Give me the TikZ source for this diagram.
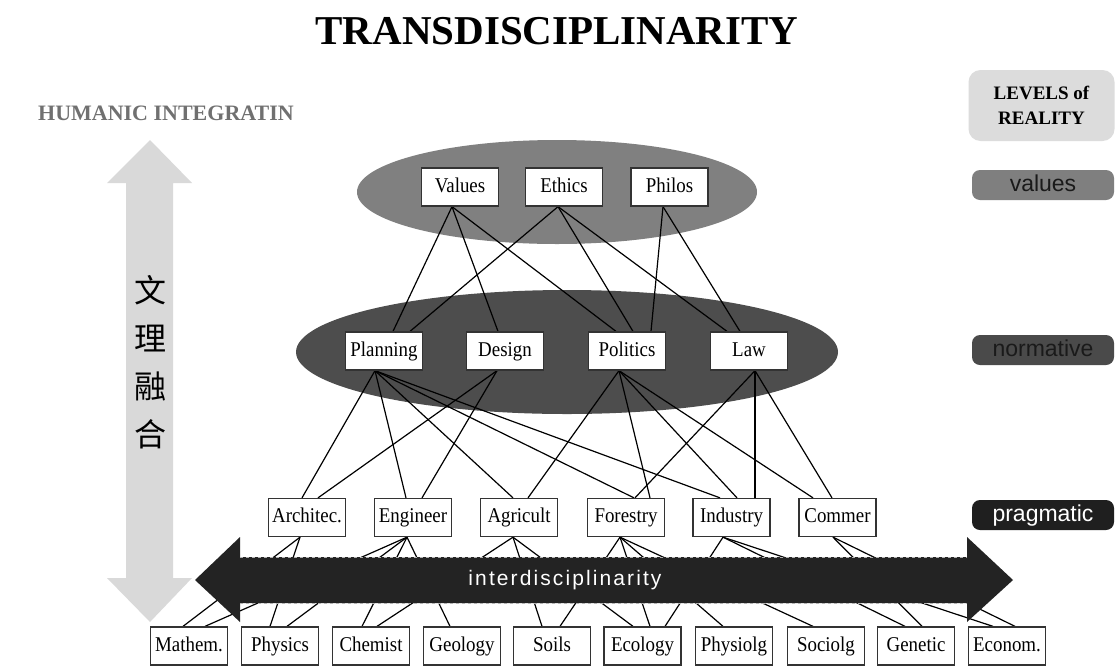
\documentclass[tikz,border=0pt]{standalone}
\usepackage{fontspec}
\setmainfont{Liberation Serif}
\setsansfont{Liberation Sans}
\newfontfamily\boxfont[FakeStretch=0.9]{Liberation Serif}
\newfontfamily\cjkfont{Noto Sans CJK SC}

\definecolor{ellvalues}{HTML}{808080}
\definecolor{ellnorm}{HTML}{4D4D4D}
\definecolor{boxline}{HTML}{333333}
\definecolor{humgrey}{HTML}{707070}
\definecolor{pillar}{HTML}{D9D9D9}
\definecolor{lvlgrey}{HTML}{DCDCDC}
\definecolor{lvlvalues}{HTML}{7F7F7F}
\definecolor{lvlnorm}{HTML}{4A4A4A}
\definecolor{lvlprag}{HTML}{1F1F1F}
\definecolor{inkdark}{HTML}{1A1A1A}
\definecolor{bandblack}{HTML}{232323}

\pgfdeclarelayer{bg}
\pgfdeclarelayer{edges}
\pgfsetlayers{bg,edges,main}

% connector from the lower side of one box to the upper side of another
\newcommand\conn[4]{\draw[link] ([xshift=#2pt]#1.south) -- ([xshift=#4pt]#3.north);}

\begin{document}
\begin{tikzpicture}[x=1pt,y=-1pt,
  disc/.style={draw=boxline, line width=1.3pt, fill=white, minimum width=77pt,
    minimum height=38pt, inner sep=0pt, text height=14pt, text depth=4pt,
    font=\boxfont\fontsize{21}{21}\selectfont},
  link/.style={line width=1.2pt, black},
  level/.style={rounded corners=8pt, minimum width=142pt, minimum height=30pt,
    inner sep=0pt, text height=16pt, text depth=4pt, font=\sffamily\fontsize{23}{23}\selectfont}]

\useasboundingbox (0,0) rectangle (1115,670);

% level ellipses on a white ground
\begin{pgfonlayer}{bg}
  \fill[white] (0,0) rectangle (1115,670);
  \fill[ellvalues] (557,192) ellipse [x radius=200, y radius=52];
  \fill[ellnorm] (567,352) ellipse [x radius=271, y radius=62];
\end{pgfonlayer}

% title and side caption
\node[font=\bfseries\fontsize{41}{41}\selectfont, anchor=base, inner sep=0pt] (title) at (557,44.5) {TRANSDISCIPLINARITY};
\node[font=\bfseries\fontsize{22}{22}\selectfont, text=humgrey, anchor=base east, inner sep=0pt] (hum) at (294,120) {HUMANIC INTEGRATIN};

% vertical double arrow with its caption
\fill[pillar] (150,140) -- (192,183) -- (173,183) -- (173,578) -- (192,578) -- (150,622)
  -- (107,578) -- (126,578) -- (126,183) -- (107,183) -- cycle;
\node[font=\cjkfont\fontsize{32}{48}\selectfont, align=center, inner sep=0pt] (wenli) at (150,362) {文\\理\\融\\合};

% value level
\node[disc] (values) at (460,187) {Values};
\node[disc] (ethics) at (564,187) {Ethics};
\node[disc] (philos) at (669.5,187) {Philos};

% normative level
\node[disc] (planning) at (384,351) {Planning};
\node[disc] (design) at (505,351) {Design};
\node[disc] (politics) at (627,351) {Politics};
\node[disc] (law) at (749,351) {Law};

% pragmatic level
\node[disc] (architec) at (307,517.5) {Architec.};
\node[disc] (engineer) at (413,517.5) {Engineer};
\node[disc] (agricult) at (519,517.5) {Agricult};
\node[disc] (forestry) at (626,517.5) {Forestry};
\node[disc] (industry) at (731.5,517.5) {Industry};
\node[disc] (commer) at (837.5,517.5) {Commer};

% disciplines
\node[disc] (mathem) at (189,646) {Mathem.};
\node[disc] (physics) at (280,646) {Physics};
\node[disc] (chemist) at (371,646) {Chemist};
\node[disc] (geology) at (462,646) {Geology};
\node[disc] (soils) at (552,646) {Soils};
\node[disc] (ecology) at (642.5,646) {Ecology};
\node[disc] (physiolg) at (734,646) {Physiolg};
\node[disc] (sociolg) at (826,646) {Sociolg};
\node[disc] (genetic) at (916,646) {Genetic};
\node[disc] (econom) at (1007,646) {Econom.};

\begin{pgfonlayer}{edges}
  % values -> normative
  \conn{values}{-8}{planning}{9}
  \conn{values}{-8}{design}{-7}
  \conn{values}{-8}{politics}{-11}
  \conn{ethics}{-6}{planning}{26}
  \conn{ethics}{-6}{politics}{6}
  \conn{ethics}{-6}{law}{-22}
  \conn{philos}{-6.5}{politics}{24}
  \conn{philos}{-6.5}{law}{-9}
  % normative -> pragmatic
  \conn{planning}{-9}{architec}{-5}
  \conn{planning}{-9}{engineer}{-7}
  \conn{planning}{-9}{agricult}{-6}
  \conn{planning}{-9}{forestry}{8}
  \conn{planning}{-9}{industry}{-11.5}
  \conn{design}{-8}{architec}{11}
  \conn{design}{-8}{engineer}{9}
  \conn{politics}{-8}{agricult}{9}
  \conn{politics}{-8}{forestry}{24}
  \conn{politics}{-8}{industry}{5.5}
  \conn{politics}{-8}{commer}{-24.5}
  \conn{law}{6}{forestry}{9}
  \conn{law}{6}{industry}{23.5}
  \conn{law}{6}{commer}{-5.5}
  % pragmatic -> disciplines
  \conn{architec}{-7}{mathem}{-6}
  \conn{architec}{-7}{physics}{-10}
  \conn{engineer}{-6}{mathem}{16}
  \conn{engineer}{-6}{physics}{7}
  \conn{engineer}{-6}{chemist}{-9}
  \conn{engineer}{-6}{geology}{-12}
  \conn{agricult}{-6}{chemist}{6}
  \conn{agricult}{-6}{soils}{-10}
  \conn{agricult}{-6}{ecology}{-9.5}
  \conn{forestry}{-6}{soils}{8}
  \conn{forestry}{-6}{ecology}{7.5}
  \conn{forestry}{-6}{physiolg}{-11}
  \conn{forestry}{-6}{sociolg}{-13}
  \conn{industry}{-8.5}{ecology}{22.5}
  \conn{industry}{-8.5}{genetic}{-11}
  \conn{industry}{-8.5}{econom}{-14}
  \conn{commer}{-4.5}{genetic}{6}
  \conn{commer}{-4.5}{econom}{8}
\end{pgfonlayer}

% horizontal double arrow across the lower links
\fill[bandblack] (195,580) -- (240,537) -- (240,557) -- (967,557) -- (967,537) -- (1013,580)
  -- (967,622) -- (967,603) -- (240,603) -- (240,622) -- cycle;
\draw[gray!60, dashed, line width=0.5pt] (240,557) -- (967,557) (240,603) -- (967,603);
\node[text=white, font=\sffamily\fontsize{21}{21}\selectfont\addfontfeatures{LetterSpace=10}] (inter) at (565,580) {interdisciplinarity};

% levels of reality legend
\node[level, fill=lvlgrey, minimum width=146pt, minimum height=71pt, rounded corners=12pt,
  text height=, text depth=, font=\bfseries\fontsize{19}{25}\selectfont, align=center] (levels) at (1041.5,105.5) {LEVELS of\\REALITY};
\node[level, fill=lvlvalues, text=inkdark] (lvalues) at (1043,185) {values};
\node[level, fill=lvlnorm, text=inkdark] (lnorm) at (1043,350) {normative};
\node[level, fill=lvlprag, text=white] (lprag) at (1043,515) {pragmatic};

\end{tikzpicture}
\end{document}
